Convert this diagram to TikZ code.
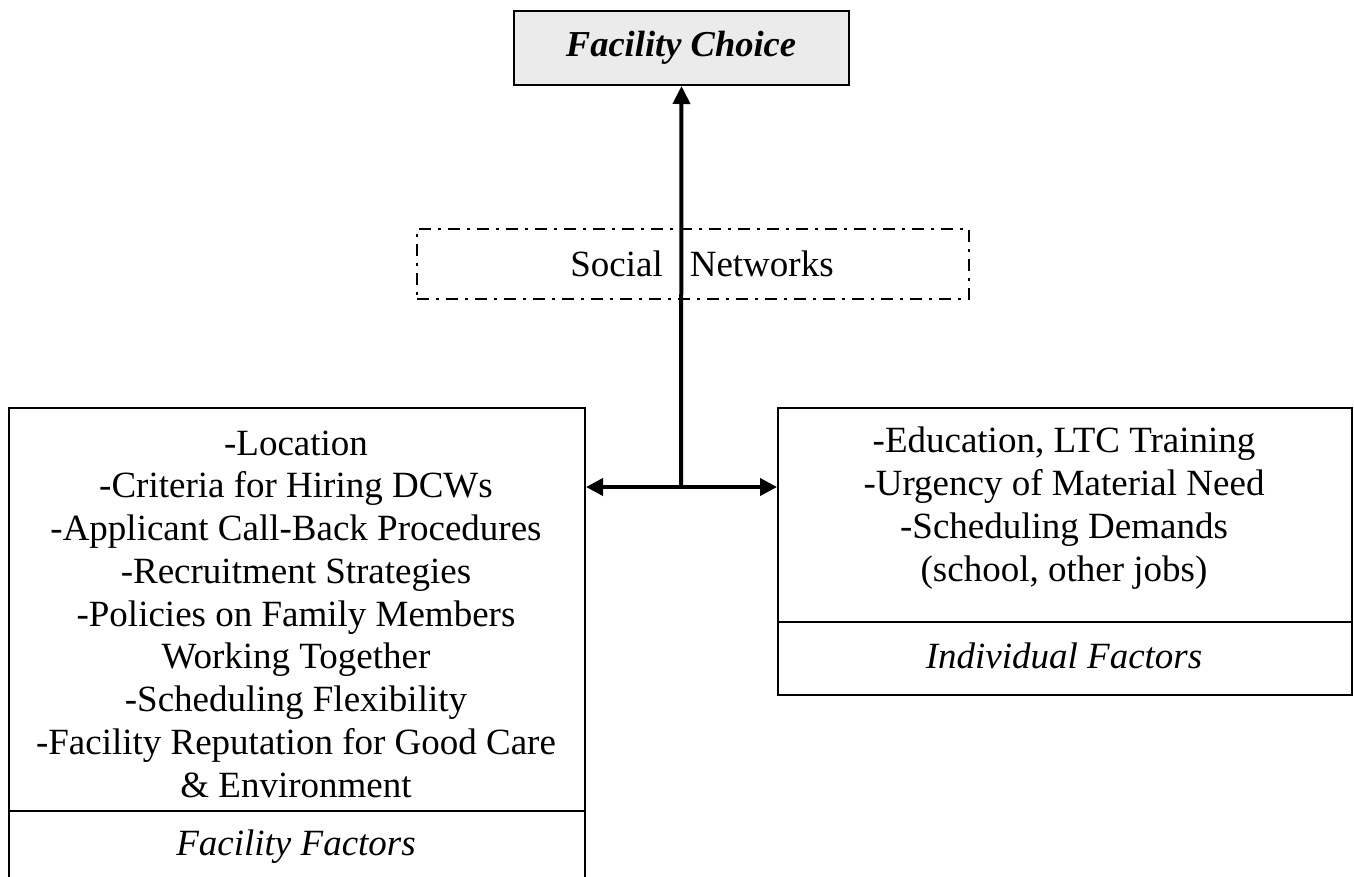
\documentclass[tikz,border=0pt]{standalone}
\usepackage{fontspec}
\setmainfont{Liberation Serif}
\usetikzlibrary{arrows.meta}
\tikzset{
  boxpart/.style={draw=black, line width=2pt, anchor=north west, inner sep=0pt, align=center},
  bodytext/.style={font=\fontsize{37}{42.75}\selectfont, align=center, inner sep=0pt},
  labeltext/.style={font=\fontsize{37}{42.75}\selectfont\itshape, inner sep=0pt},
  dashdot box/.style={draw=black, line width=2pt, dash pattern=on 12pt off 7pt on 3pt off 7pt, anchor=north west, inner sep=0pt},
  bigarrow/.style={line width=4pt, -{Triangle[length=18pt,width=17pt]}},
  twoarrow/.style={line width=4pt, {Triangle[length=17pt,width=17pt]}-{Triangle[length=17pt,width=17pt]}}
}
\begin{document}
\begin{tikzpicture}[x=1pt,y=-1pt]
\useasboundingbox (0,0) rectangle (1354,876);
\fill[white] (0,0) rectangle (1354,876);
\clip (0,0) rectangle (1354,876);

% top box
\node[boxpart, fill=black!8, minimum width=335pt, minimum height=74pt] (choice) at (513,10) {};
\node[font=\fontsize{36.5}{40}\selectfont\bfseries\itshape, inner sep=0pt] (choicetext) at (681,48) {Facility Choice};

% social networks box
\node[dashdot box, minimum width=552pt, minimum height=70pt] (social) at (416,228) {};
\node[font=\fontsize{37}{40}\selectfont, inner sep=0pt] (socialtext) at (702,264) {Social\hspace{27pt}Networks};

% left box
\node[boxpart, minimum width=576pt, minimum height=403pt] (fac) at (8,407) {};
\node[boxpart, minimum width=576pt, minimum height=110pt] (faclab) at (8,810) {};
\node[bodytext] (factext) at (296,614) {-Location\\-Criteria for Hiring DCWs\\-Applicant Call-Back Procedures\\-Recruitment Strategies\\-Policies on Family Members\\Working Together\\-Scheduling Flexibility\\-Facility Reputation for Good Care\\\& Environment};
\node[labeltext] (faclabtext) at (296,847) {Facility Factors};

% right box
\node[boxpart, minimum width=574pt, minimum height=214pt] (ind) at (777,407) {};
\node[boxpart, minimum width=574pt, minimum height=73pt] (indlab) at (777,621) {};
\node[bodytext] (indtext) at (1064,508) {-Education, LTC Training\\-Urgency of Material Need\\-Scheduling Demands\\(school, other jobs)};
\node[labeltext] (indlabtext) at (1064,656) {Individual Factors};

% connectors
\coordinate (j) at (681,487);
\draw[twoarrow] (fac.east |- j) -- (ind.west |- j);
\draw[bigarrow] (j) -- (choice.south);
\end{tikzpicture}
\end{document}
